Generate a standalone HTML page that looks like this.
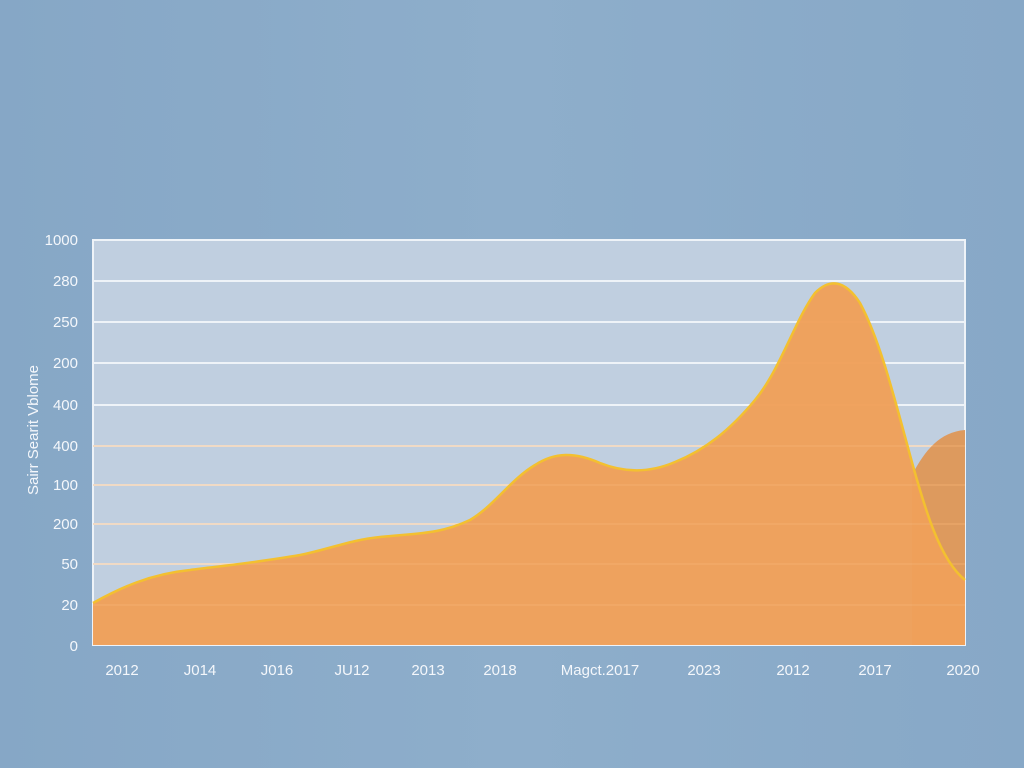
<!DOCTYPE html>
<html><head><style>
body{margin:0;width:1024px;height:768px;background:#8aabc9;overflow:hidden}
svg{display:block}
svg text{font-family:"Liberation Sans",sans-serif;fill:#f4f7fb;font-size:15px}
</style></head><body>
<svg width="1024" height="768">
<defs><linearGradient id="bg" x1="0" y1="0" x2="1" y2="0"><stop offset="0" stop-color="#86a7c6"/><stop offset="0.5" stop-color="#8eaecb"/><stop offset="1" stop-color="#87a8c7"/></linearGradient></defs>
<rect width="1024" height="768" fill="url(#bg)"/>
<rect x="93" y="240" width="872" height="405" fill="#c0cfe0" stroke="#eef3f8" stroke-width="2"/>
<g stroke="#eef3f8" stroke-width="2">
<line x1="93" x2="965" y1="281" y2="281"/><line x1="93" x2="965" y1="322" y2="322"/>
<line x1="93" x2="965" y1="363" y2="363"/><line x1="93" x2="965" y1="405" y2="405"/>
<line x1="93" x2="965" y1="446" y2="446"/><line x1="93" x2="965" y1="485" y2="485"/>
<line x1="93" x2="965" y1="524" y2="524"/><line x1="93" x2="965" y1="564" y2="564"/>
<line x1="93" x2="965" y1="605" y2="605"/>
</g>
<path d="M912,475 C925,450 940,432 965,430 L965,645 L912,645Z" fill="#dd9a5e"/>
<path d="M93,603 C120,588 150,574 190,570 C230,565 260,562 300,555 C330,549 350,540 380,537 C420,533 440,534 470,520 C495,505 510,480 535,465 C555,452 575,452 600,463 C620,471 645,475 675,462 C705,450 730,430 755,400 C780,370 795,320 815,293 C830,278 845,280 860,303 C880,340 895,400 910,455 C925,510 940,560 965,580 L965,645 L93,645Z" fill="#efa05a" fill-opacity="0.97"/>
<g stroke="#f3b272" stroke-width="1.5" opacity="0.5">
<line x1="93" x2="965" y1="446" y2="446"/><line x1="93" x2="965" y1="485" y2="485"/>
<line x1="93" x2="965" y1="524" y2="524"/><line x1="93" x2="965" y1="564" y2="564"/>
<line x1="93" x2="965" y1="605" y2="605"/>
</g>
<path d="M93,603 C120,588 150,574 190,570 C230,565 260,562 300,555 C330,549 350,540 380,537 C420,533 440,534 470,520 C495,505 510,480 535,465 C555,452 575,452 600,463 C620,471 645,475 675,462 C705,450 730,430 755,400 C780,370 795,320 815,293 C830,278 845,280 860,303 C880,340 895,400 910,455 C925,510 940,560 965,580" fill="none" stroke="#f3c030" stroke-width="2.5"/>
<g text-anchor="end">
<text x="78" y="245">1000</text><text x="78" y="286">280</text><text x="78" y="327">250</text>
<text x="78" y="368">200</text><text x="78" y="410">400</text><text x="78" y="451">400</text>
<text x="78" y="490">100</text><text x="78" y="529">200</text><text x="78" y="569">50</text>
<text x="78" y="610">20</text><text x="78" y="651">0</text>
</g>
<text transform="translate(38,430) rotate(-90)" text-anchor="middle" font-size="17">Sairr  Searit Vblome</text>
<g text-anchor="middle">
<text x="122" y="675">2012</text><text x="200" y="675">J014</text><text x="277" y="675">J016</text>
<text x="352" y="675">JU12</text><text x="428" y="675">2013</text><text x="500" y="675">2018</text>
<text x="600" y="675">Magct.2017</text><text x="704" y="675">2023</text><text x="793" y="675">2012</text>
<text x="875" y="675">2017</text><text x="963" y="675">2020</text>
</g>
</svg>
</body></html>
